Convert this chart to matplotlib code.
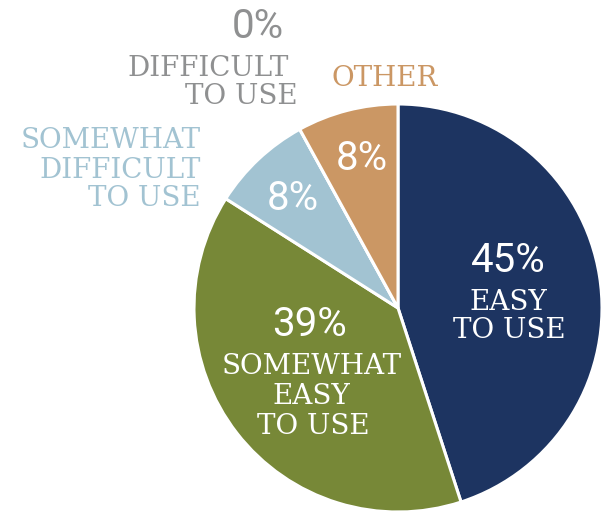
import matplotlib.pyplot as plt

# survey result shares, clockwise from 12 o'clock
categories = ['EASY\nTO USE', 'SOMEWHAT\nEASY\nTO USE', 'SOMEWHAT\nDIFFICULT\nTO USE',
              'DIFFICULT\nTO USE', 'OTHER']
values = [45, 39, 8, 0, 8]
pct_labels = ['45%', '39%', '8%', '0%', '8%']
colors = ['#1d3461', '#778837', '#a2c3d2', '#8f9091', '#cb9764']

W, H = 605, 512
fig = plt.figure(figsize=(W / 100, H / 100), dpi=100)
ax = fig.add_axes([0, 0, 1, 1])

ax.pie(values, colors=colors, startangle=90, counterclock=False,
       center=(398, H - 308), radius=204,
       wedgeprops=dict(edgecolor='white', linewidth=2.2))
ax.set_xlim(0, W)
ax.set_ylim(0, H)
ax.set_aspect('equal')
ax.axis('off')

numfont = dict(family='Roboto', fontsize=29)
labfont = dict(family='DejaVu Serif', fontsize=20)


def put(x, y, s, color, font, ha='center'):
    ax.text(x, H - y, s, color=color, ha=ha, va='center', **font)


# inside labels
put(508, 260, pct_labels[0], 'white', numfont)
put(508, 302, 'EASY', 'white', labfont)
put(509, 330, 'TO USE', 'white', labfont)

put(309, 325, pct_labels[1], 'white', numfont)
put(312, 367, 'SOMEWHAT', 'white', labfont)
put(311, 397, 'EASY', 'white', labfont)
put(313, 426, 'TO USE', 'white', labfont)

put(293, 199, pct_labels[2], 'white', numfont)
put(362, 159, pct_labels[4], 'white', numfont)

# outside labels
put(258, 27, pct_labels[3], colors[3], numfont)
put(289, 68, 'DIFFICULT', colors[3], labfont, ha='right')
put(298, 97, 'TO USE', colors[3], labfont, ha='right')

put(385, 78, 'OTHER', colors[4], labfont)

put(201, 140, 'SOMEWHAT', colors[2], labfont, ha='right')
put(201, 170, 'DIFFICULT', colors[2], labfont, ha='right')
put(201, 199, 'TO USE', colors[2], labfont, ha='right')

fig.savefig('out.png', dpi=100)
